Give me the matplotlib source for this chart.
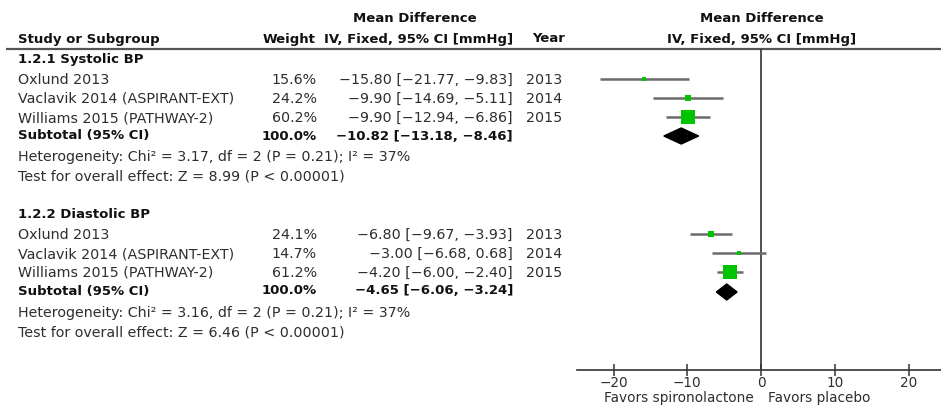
import matplotlib
matplotlib.use("Agg")
import matplotlib.pyplot as plt
from matplotlib.patches import Polygon

plt.rcParams['font.family'] = ['DejaVu Sans']

# ---- data ----
groups = ["1.2.1 Systolic BP", "1.2.2 Diastolic BP"]
studies = ["Oxlund 2013", "Vaclavik 2014 (ASPIRANT-EXT)", "Williams 2015 (PATHWAY-2)"]
years = [2013, 2014, 2015]

sys_weight = [15.6, 24.2, 60.2]
sys_md = [-15.80, -9.90, -9.90]
sys_lo = [-21.77, -14.69, -12.94]
sys_hi = [-9.83, -5.11, -6.86]
sys_total = [-10.82, -13.18, -8.46]
sys_het = "Heterogeneity: Chi\u00b2 = 3.17, df = 2 (P = 0.21); I\u00b2 = 37%"
sys_test = "Test for overall effect: Z = 8.99 (P < 0.00001)"

dia_weight = [24.1, 14.7, 61.2]
dia_md = [-6.80, -3.00, -4.20]
dia_lo = [-9.67, -6.68, -6.00]
dia_hi = [-3.93, 0.68, -2.40]
dia_total = [-4.65, -6.06, -3.24]
dia_het = "Heterogeneity: Chi\u00b2 = 3.16, df = 2 (P = 0.21); I\u00b2 = 37%"
dia_test = "Test for overall effect: Z = 6.46 (P < 0.00001)"

xticks = [-20, -10, 0, 10, 20]
left_label = "Favors spironolactone"
right_label = "Favors placebo"

# ---- layout (pixels) ----
W, H = 941, 408
DPI = 100
FS = 10.3      # regular text
FSB = 9.5      # bold text
FSA = 9.8      # axis text
TXT = "#2e2e2e"
DARK = "#111111"
GREEN = "#00c400"
CI_COL = "#6a6a6a"
MINUS = "\u2212"

fig = plt.figure(figsize=(W / DPI, H / DPI), dpi=DPI)
bg = fig.add_axes([0, 0, 1, 1])
bg.set_xlim(0, W)
bg.set_ylim(H, 0)
bg.axis("off")

# forest axes occupies pixel box x 577..941, y 49..370
fx0, fx1, fy0, fy1 = 577, 941, 49, 370
fa = fig.add_axes([fx0 / W, (H - fy1) / H, (fx1 - fx0) / W, (fy1 - fy0) / H])
fa.set_xlim(-24.95, 24.4)
fa.set_ylim(fy1, fy0)
fa.patch.set_alpha(0)
for s in ["top", "left", "right"]:
    fa.spines[s].set_visible(False)
fa.spines["bottom"].set_color("#333333")
fa.spines["bottom"].set_linewidth(1.2)
fa.set_yticks([])
fa.set_xticks(xticks)
fa.set_xticklabels([str(v).replace("-", MINUS) for v in xticks])
fa.tick_params(axis="x", direction="inout", length=8, width=1.1, color="#333333",
               labelsize=FSA, labelcolor=TXT, pad=0)
fa.axvline(0, color="#333333", lw=1.2)

def t(x, y, s, ha="left", bold=False, color=None, size=None):
    if color is None:
        color = DARK if bold else TXT
    if size is None:
        size = FSB if bold else FS
    bg.text(x, y, s, ha=ha, va="center", fontsize=size,
            fontweight="bold" if bold else "normal", color=color)

# header
t(415, 19, "Mean Difference", ha="center", bold=True)
t(18, 39, "Study or Subgroup", bold=True)
t(315, 39, "Weight", ha="right", bold=True)
t(513, 39, "IV, Fixed, 95% CI [mmHg]", ha="right", bold=True)
t(565, 39, "Year", ha="right", bold=True)
t(762, 19, "Mean Difference", ha="center", bold=True)
t(762, 39, "IV, Fixed, 95% CI [mmHg]", ha="center", bold=True)
bg.plot([6, W], [49, 49], color="#555555", lw=1.6, solid_capstyle="butt")

def num(v):
    return f"{v:.2f}".replace("-", MINUS)

def fmt_ci(m, lo, hi):
    return f"{num(m)} [{num(lo)}, {num(hi)}]"

def block(title, y_title, rows_y, w, md, lo, hi, total, het, test, y_het, y_test, y_mark):
    t(18, y_title, title, bold=True)
    for i, name in enumerate(studies):
        y = rows_y[i]
        t(18, y, name)
        t(317, y, f"{w[i]:.1f}%", ha="right")
        t(513, y, fmt_ci(md[i], lo[i], hi[i]), ha="right")
        t(526, y, str(years[i]))
        ym = y_mark[i]
        fa.plot([lo[i], hi[i]], [ym, ym], color=CI_COL, lw=1.8, solid_capstyle="butt", zorder=2)
        side_px = 0.23 * w[i] + 0.8
        fa.plot([md[i]], [ym], marker="s", markersize=side_px * 72 / DPI,
                color=GREEN, markeredgewidth=0, zorder=3)
    ys = rows_y[3]
    t(18, ys, "Subtotal (95% CI)", bold=True)
    t(317, ys, f"{sum(w):.1f}%", ha="right", bold=True)
    t(513, ys, fmt_ci(*total), ha="right", bold=True)
    yd = y_mark[3]
    m, lo_t, hi_t = total
    fa.add_patch(Polygon([(lo_t, yd), (m, yd - 8), (hi_t, yd), (m, yd + 8)],
                         closed=True, color="black", zorder=3))
    t(18, y_het, het)
    t(18, y_test, test)

block(groups[0], 59, [80, 99, 118, 136], sys_weight, sys_md, sys_lo, sys_hi, sys_total,
      sys_het, sys_test, 157, 177, [79, 98, 117, 136])
block(groups[1], 214, [235, 254, 273, 291], dia_weight, dia_md, dia_lo, dia_hi, dia_total,
      dia_het, dia_test, 313, 333, [234, 253, 272, 292])

t(754, 398, left_label, ha="right", size=FSA)
t(768, 398, right_label, ha="left", size=FSA)

fig.savefig("out.png", dpi=DPI)
